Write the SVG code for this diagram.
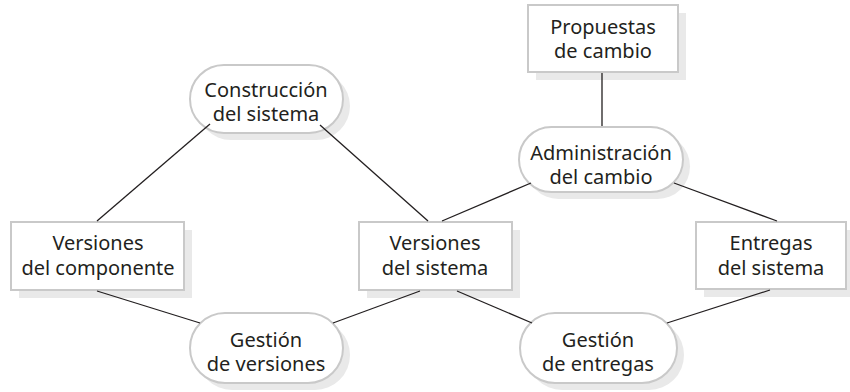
<svg xmlns="http://www.w3.org/2000/svg" width="850" height="392" viewBox="0 0 850 392">
<style>
.sh{fill:#e9e9e9;stroke:none}
.nd{fill:#fff;stroke:#c9c9c9;stroke-width:2}
.tx{font-family:"Noto Sans","Open Sans",sans-serif;font-size:20px;fill:#231f20;text-anchor:middle}
.cn line{stroke:#231f20;stroke-width:1.3}
</style>
<rect width="850" height="392" fill="#fff"/>
<g id="construccion">
<rect class="sh" x="197" y="72" width="153" height="68" rx="34"/>
<rect class="nd" x="190" y="65" width="153" height="68" rx="34"/>
<text class="tx"><tspan x="266" y="97">Construcción</tspan><tspan x="266" y="121">del sistema</tspan></text>
</g>
<g id="propuestas">
<rect class="sh" x="536" y="13" width="150" height="67"/>
<rect class="nd" x="528" y="5" width="150" height="67"/>
<text class="tx"><tspan x="603" y="34">Propuestas</tspan><tspan x="603" y="58">de cambio</tspan></text>
</g>
<g id="administracion">
<rect class="sh" x="526" y="134" width="164" height="65" rx="32.5"/>
<rect class="nd" x="519" y="127" width="164" height="65" rx="32.5"/>
<text class="tx"><tspan x="601" y="160">Administración</tspan><tspan x="601" y="184">del cambio</tspan></text>
</g>
<g id="versiones-componente">
<rect class="sh" x="19" y="230" width="173" height="68"/>
<rect class="nd" x="11" y="222" width="173" height="68"/>
<text class="tx"><tspan x="98" y="250">Versiones</tspan><tspan x="98" y="275">del componente</tspan></text>
</g>
<g id="versiones-sistema">
<rect class="sh" x="367" y="230" width="153" height="68"/>
<rect class="nd" x="359" y="222" width="153" height="68"/>
<text class="tx"><tspan x="435" y="250">Versiones</tspan><tspan x="435" y="275">del sistema</tspan></text>
</g>
<g id="entregas-sistema">
<rect class="sh" x="704" y="230" width="150" height="67"/>
<rect class="nd" x="696" y="222" width="150" height="67"/>
<text class="tx"><tspan x="771" y="250">Entregas</tspan><tspan x="771" y="275">del sistema</tspan></text>
</g>
<g id="gestion-versiones">
<rect class="sh" x="197" y="320" width="153" height="70" rx="35"/>
<rect class="nd" x="190" y="313" width="153" height="70" rx="35"/>
<text class="tx"><tspan x="266" y="347">Gestión</tspan><tspan x="266" y="371">de versiones</tspan></text>
</g>
<g id="gestion-entregas">
<rect class="sh" x="527" y="320" width="157" height="70" rx="35"/>
<rect class="nd" x="520" y="313" width="157" height="70" rx="35"/>
<text class="tx"><tspan x="598" y="347">Gestión</tspan><tspan x="598" y="371">de entregas</tspan></text>
</g>
<g id="connectors" class="cn">
<line x1="210" y1="124" x2="97" y2="221"/>
<line x1="320" y1="125" x2="428" y2="221"/>
<line x1="531" y1="183" x2="442" y2="221"/>
<line x1="674" y1="183" x2="777" y2="221"/>
<line x1="602" y1="73" x2="602" y2="126"/>
<line x1="97" y1="291" x2="200" y2="323"/>
<line x1="420" y1="291" x2="333" y2="323"/>
<line x1="457" y1="291" x2="532" y2="323"/>
<line x1="770" y1="290" x2="667" y2="323"/>
</g>
</svg>
